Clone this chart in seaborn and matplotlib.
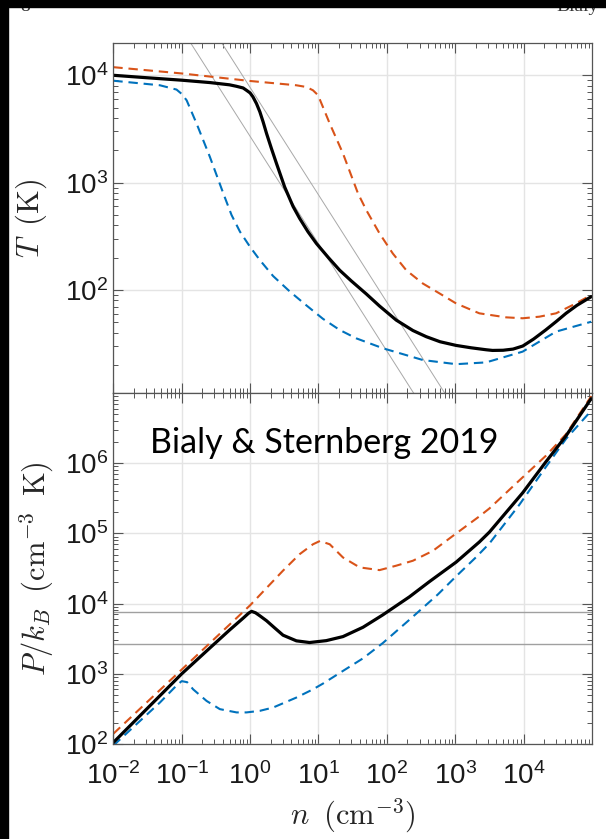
import numpy as np
import pandas as pd
import matplotlib
matplotlib.use("Agg")
from matplotlib import pyplot as plt
from matplotlib.ticker import LogLocator, NullFormatter, FixedLocator, FixedFormatter
from matplotlib.patches import Rectangle
import seaborn as sns

# ---- top panel: T(n)
n_T_black = [0.01, 0.03, 0.1, 0.26, 0.5, 0.63, 0.79, 0.885, 1.0, 1.1, 1.24, 1.39, 1.55, 1.74, 2.05, 2.43,
             3.2, 4.25, 5.3, 7.0, 9.3, 14, 20.4, 30, 50, 78, 137, 240, 376, 600, 1030, 1700, 2820, 3500,
             5000, 7000, 9700, 14000, 21000, 30000, 41600, 60000, 97000]
T_black = [10000, 9500, 9000, 8550, 8150, 7900, 7620, 7250, 6850, 6300, 5450, 4560, 3680, 2870, 2080, 1510,
           912, 600, 465, 350, 272, 200, 153, 122, 92, 71, 52.5, 42, 36.8, 33, 30.5, 29, 27.8, 27.4,
           27.5, 28.2, 30.1, 35, 42.5, 51, 60.7, 72, 86.7]

n_T_orange = [0.01, 0.1, 1.0, 4.75, 6.65, 8.3, 9.85, 11.6, 14.6, 22.8, 37.8, 50, 78, 122, 192, 336, 589,
              1030, 2250, 5530, 9660, 17000, 29700, 51900, 97300]
T_orange = [11900, 10400, 8850, 8070, 7780, 7250, 6520, 5070, 3550, 1870, 794, 555, 337, 219, 153, 115, 93,
            75, 60.7, 55.7, 54.6, 56.5, 60.7, 72.4, 89.8]

n_T_blue = [0.01, 0.048, 0.084, 0.1, 0.118, 0.165, 0.258, 0.404, 0.535, 0.71, 1.0, 1.39, 2.17, 3.8, 6.65,
            11.6, 20.4, 35.7, 87.5, 336, 1030, 2820, 9660, 29700, 97300]
T_blue = [8900, 8070, 7360, 6700, 5850, 3550, 1740, 800, 500, 350, 252, 190, 135, 97, 72,
          54, 42.5, 35.5, 28.7, 22.3, 20.4, 21.2, 26.7, 41, 50.7]

# ---- bottom panel: P/k_B(n)
n_P_black = [0.01, 0.1, 0.26, 0.5, 0.79, 0.95, 1.05, 1.2, 1.39, 1.74, 2.29, 3.03, 4.75, 7.4, 13, 22.8,
             44.7, 87, 214, 417, 1030, 2250, 3160, 9660, 21200, 41600, 97000]
P_black = [105, 1000, 2350, 4200, 6200, 7300, 7760, 7400, 6700, 5700, 4500, 3550, 2950, 2790, 2970, 3390,
           4600, 6900, 12500, 20500, 39000, 75500, 104500, 378000, 1.05e6, 2.45e6, 8.3e6]

n_P_orange = [0.01, 0.1, 1.0, 3.03, 5.3, 8.3, 10.5, 14.6, 22.8, 40, 78, 137, 240, 470, 920, 2250, 3160,
              8650, 21200, 41600, 97300]
P_orange = [140, 1150, 9460, 29500, 50600, 70000, 78000, 70000, 45400, 32800, 30000, 34700, 40800, 56400,
            92000, 175000, 227000, 569000, 1.28e6, 2.59e6, 9.0e6]

n_P_blue = [0.01, 0.048, 0.085, 0.1, 0.12, 0.147, 0.231, 0.361, 0.634, 0.885, 1.39, 2.17, 4.75, 8.3, 11.6,
            22.8, 44.7, 87.5, 214, 556, 1030, 2020, 3160, 8650, 21200, 41600, 97300]
P_blue = [95, 390, 690, 787, 760, 601, 411, 314, 282, 282, 297, 331, 459, 601, 725,
          1100, 1660, 2750, 5900, 13500, 24500, 46000, 72000, 256000, 889000, 2.22e6, 5.6e6]

# isobars through the black curve's peak and dip
P_iso = [2700, 7700]
n_iso = [1e-3, 1e6]

x_ticks = [1e-2, 1e-1, 1e0, 1e1, 1e2, 1e3, 1e4]
x_labels = ["-2", "-1", "0", "1", "2", "3", "4"]
yT_ticks = [1e2, 1e3, 1e4]
yT_labels = ["2", "3", "4"]
yP_ticks = [1e2, 1e3, 1e4, 1e5, 1e6]
yP_labels = ["2", "3", "4", "5", "6"]

RED = "#D95319"
BLUE = "#0072BD"

sns.set_theme(style="white")
plt.rcParams["font.family"] = ["Liberation Sans", "DejaVu Sans"]
plt.rcParams["mathtext.fontset"] = "cm"

fig = plt.figure(figsize=(6.06, 8.39), dpi=100)
ax_t = fig.add_axes([0.187, 0.5316, 0.790, 0.4172])
ax_b = fig.add_axes([0.187, 0.1132, 0.790, 0.4184])

dash = (0, (4.5, 2.8))

# top panel
for p in P_iso:
    iso = pd.DataFrame({"n": n_iso, "T": [p / v for v in n_iso]})
    sns.lineplot(data=iso, x="n", y="T", ax=ax_t, color="#a8a8a8", lw=0.7, errorbar=None)
df = pd.DataFrame({"n": n_T_orange, "T": T_orange})
sns.lineplot(data=df, x="n", y="T", ax=ax_t, color=RED, lw=1.5, linestyle=dash, errorbar=None)
df = pd.DataFrame({"n": n_T_blue, "T": T_blue})
sns.lineplot(data=df, x="n", y="T", ax=ax_t, color=BLUE, lw=1.5, linestyle=dash, errorbar=None)
df = pd.DataFrame({"n": n_T_black, "T": T_black})
sns.lineplot(data=df, x="n", y="T", ax=ax_t, color="black", lw=2.3, errorbar=None)

# bottom panel
for p in P_iso:
    ax_b.axhline(p, color="#a0a0a0", lw=1.0, zorder=1.5)
df = pd.DataFrame({"n": n_P_orange, "P": P_orange})
sns.lineplot(data=df, x="n", y="P", ax=ax_b, color=RED, lw=1.5, linestyle=dash, errorbar=None)
df = pd.DataFrame({"n": n_P_blue, "P": P_blue})
sns.lineplot(data=df, x="n", y="P", ax=ax_b, color=BLUE, lw=1.5, linestyle=dash, errorbar=None)
df = pd.DataFrame({"n": n_P_black, "P": P_black})
sns.lineplot(data=df, x="n", y="P", ax=ax_b, color="black", lw=2.3, errorbar=None)

for ax in (ax_t, ax_b):
    ax.set_xscale("log")
    ax.set_yscale("log")
    ax.set_xlim(1e-2, 1e5)
    ax.xaxis.set_major_locator(FixedLocator(x_ticks))
    ax.xaxis.set_major_formatter(FixedFormatter([r"$\mathregular{10^{%s}}$" % s for s in x_labels]))
    ax.xaxis.set_minor_locator(LogLocator(base=10, subs=np.arange(2, 10) * 1.0, numticks=100))
    ax.yaxis.set_minor_locator(LogLocator(base=10, subs=np.arange(2, 10) * 1.0, numticks=100))
    ax.xaxis.set_minor_formatter(NullFormatter())
    ax.yaxis.set_minor_formatter(NullFormatter())
    ax.tick_params(which="both", direction="in", top=True, right=True, bottom=True, left=True,
                   color="#555555", labelsize=20, labelcolor="#1a1a1a")
    ax.tick_params(which="major", length=7, width=0.8)
    ax.tick_params(which="minor", length=3.5, width=0.7)
    ax.tick_params(axis="x", which="major", pad=13)
    ax.grid(True, which="major", color="#e4e4e4", lw=1)
    ax.set_axisbelow(True)
    for s in ax.spines.values():
        s.set_color("#555555")
        s.set_linewidth(0.9)

ax_t.set_ylim(11, 2e4)
ax_t.yaxis.set_major_locator(FixedLocator(yT_ticks))
ax_t.yaxis.set_major_formatter(FixedFormatter([r"$\mathregular{10^{%s}}$" % s for s in yT_labels]))
ax_t.tick_params(labelbottom=False)
ax_t.set_xlabel("")
ax_t.set_ylabel(r"$T\;\;\mathrm{(K)}$", fontsize=22)
ax_t.yaxis.set_label_coords(-0.135, 0.5)

ax_b.set_ylim(1e2, 1e7)
ax_b.yaxis.set_major_locator(FixedLocator(yP_ticks))
ax_b.yaxis.set_major_formatter(FixedFormatter([r"$\mathregular{10^{%s}}$" % s for s in yP_labels]))
ax_b.set_ylabel(r"$P/k_B\;\;(\mathrm{cm}^{-3}\;\;\mathrm{K})$", fontsize=22)
ax_b.yaxis.set_label_coords(-0.12, 0.5)
ax_b.set_xlabel(r"$n\;\;(\mathrm{cm}^{-3})$", fontsize=22)
ax_b.xaxis.set_label_coords(0.5, -0.15)

fig.text(0.2475, 1 - 453 / 839, "Bialy & Sternberg 2019", fontsize=24.5, family=["Lato", "DejaVu Sans"],
         va="baseline", ha="left", color="black")

# clipped page header behind the black frame
fig.text(0.033, 1 - 11 / 839, "8", fontsize=14, family="Liberation Serif", va="baseline", color="#333333")
fig.text(0.9175, 1 - 11 / 839, "Bialy", fontsize=14, family="Liberation Serif", va="baseline", color="#333333")
fig.patches.append(Rectangle((0, 0), 8 / 606, 1, transform=fig.transFigure, color="black", zorder=10))
fig.patches.append(Rectangle((0, 1 - 7 / 839), 1, 7 / 839, transform=fig.transFigure, color="black", zorder=10))

fig.savefig("out.png", dpi=100)
